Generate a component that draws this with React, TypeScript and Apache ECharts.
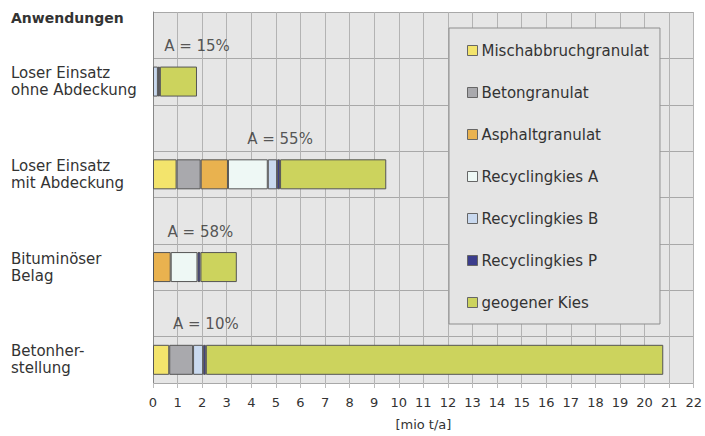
import React, { useEffect, useRef } from "react";
import * as echarts from "echarts";

const categories = [
  "Loser Einsatz\nohne Abdeckung",
  "Loser Einsatz\nmit Abdeckung",
  "Bituminöser\nBelag",
  "Betonher-\nstellung",
];
const shares = ["A = 15%", "A = 55%", "A = 58%", "A = 10%"];
const xTicks = [0, 22];

const seriesNames = [
  "Mischabbruchgranulat",
  "Betongranulat",
  "Asphaltgranulat",
  "Recyclingkies A",
  "Recyclingkies B",
  "Recyclingkies P",
  "geogener Kies",
];
const mischabbruch = [0, 0.96, 0, 0.66];
const beton = [0, 0.98, 0, 0.97];
const asphalt = [0, 1.11, 0.72, 0];
const recyclingA = [0, 1.62, 1.09, 0];
const recyclingB = [0.2, 0.38, 0, 0.41];
const recyclingP = [0.08, 0.12, 0.12, 0.11];
const kies = [1.51, 4.32, 1.48, 18.61];

const colors = ["#f3e46c", "#a9a9ad", "#e9b24f", "#eef8f5", "#c9d9ef", "#3b3d8c", "#ccd35d"];
const FONT = "DejaVu Sans";

export default function App() {
  const ref = useRef<HTMLDivElement>(null);
  useEffect(() => {
    if (!ref.current) return;
    const chart = echarts.init(ref.current, undefined, { renderer: "svg" });
    const values = [mischabbruch, beton, asphalt, recyclingA, recyclingB, recyclingP, kies];
    const rows: string[] = [];
    categories.forEach((c, i) => {
      rows.push("gap" + i);
      rows.push(c);
    });
    const barSeries = seriesNames.map((name, s) => ({
      name,
      type: "bar",
      stack: "total",
      barWidth: 30,
      itemStyle: { color: colors[s], borderColor: "#555", borderWidth: 1 },
      data: rows.map((r, k) => {
        if (k % 2 === 0) return null;
        const v = values[s][(k - 1) / 2];
        return v > 0 ? v : null;
      }),
    }));
    const anchors = categories.map((_, i) => {
      const recycled = values.slice(0, 6).reduce((a, arr) => a + arr[i], 0);
      const total = recycled + kies[i];
      return recycled < 1 ? total : recycled;
    });
    chart.setOption({
      animation: false,
      textStyle: { fontFamily: FONT },
      title: {
        text: "Anwendungen",
        left: 11,
        top: 11,
        padding: 0,
        textStyle: { fontSize: 14, fontWeight: "bold", color: "#333", fontFamily: FONT },
      },
      legend: {
        data: seriesNames,
        orient: "vertical",
        left: 449,
        top: 28,
        padding: [15, 11, 14, 18],
        itemGap: 27,
        itemWidth: 10,
        itemHeight: 10,
        icon: "rect",
        selectedMode: false,
        backgroundColor: "#e4e4e4",
        borderColor: "#8e8e8e",
        borderWidth: 1,
        itemStyle: { borderColor: "#666", borderWidth: 1 },
        textStyle: { fontSize: 15, color: "#333", fontFamily: FONT, padding: [0, 0, 0, -1] },
      },
      grid: {
        left: 153,
        right: 11,
        top: 12,
        bottom: 49,
        show: true,
        backgroundColor: "#e6e6e6",
        borderWidth: 0,
      },
      xAxis: {
        type: "value",
        min: xTicks[0],
        max: xTicks[1],
        interval: 1,
        name: "[mio t/a]",
        nameLocation: "middle",
        nameGap: 35,
        nameTextStyle: { fontSize: 13, color: "#333", fontFamily: FONT },
        axisLine: { show: false },
        axisTick: { show: true, length: 5, lineStyle: { color: "#bbb" } },
        axisLabel: { fontSize: 13, color: "#333", margin: 13, fontFamily: FONT },
        splitLine: { show: true, lineStyle: { color: "#b3b3b3", width: 1 } },
      },
      yAxis: {
        type: "category",
        inverse: true,
        data: rows,
        axisLine: { show: true, lineStyle: { color: "#888" } },
        axisTick: { show: false },
        splitLine: { show: true, interval: 0, lineStyle: { color: "#a8a8a8", width: 1 } },
        axisLabel: {
          interval: 0,
          align: "left",
          margin: 142,
          fontSize: 15,
          lineHeight: 17,
          color: "#333",
          fontFamily: FONT,
          formatter: (v: string) => (v.startsWith("gap") ? "" : v),
        },
      },
      series: [
        ...barSeries,
        {
          type: "scatter",
          symbolSize: 1,
          itemStyle: { color: "transparent" },
          data: anchors.map((a, i) => [a, 2 * i]),
          label: {
            show: true,
            position: "inside",
            offset: [0, 11],
            fontSize: 15,
            color: "#2e2e2e",
            fontFamily: FONT,
            formatter: (p: any) => shares[p.dataIndex],
          },
          silent: true,
        },
      ],
    });
    return () => chart.dispose();
  }, []);
  return (
    <div
      ref={ref}
      style={{ position: "fixed", left: 0, top: 0, width: 705, height: 436, background: "#fff" }}
    />
  );
}
